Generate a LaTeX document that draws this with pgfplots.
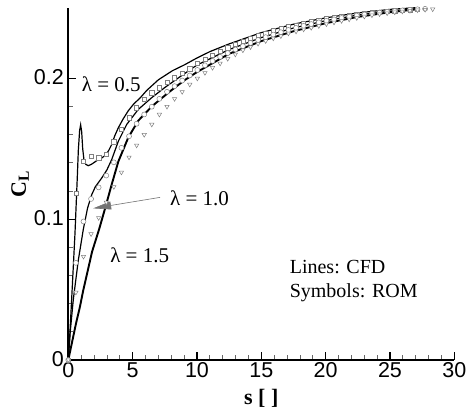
\documentclass[border=0pt]{standalone}
\usepackage{fontspec}
\setmainfont{Liberation Serif}
\newfontfamily\arial{Liberation Sans}
\usepackage{pgfplots}
\pgfplotsset{compat=1.18}
\usetikzlibrary{arrows.meta}

% CFD lift histories, one per lambda
\pgfplotstableread{
s     cl
0     0
0.1   0.015
0.26  0.043
0.52  0.090
0.70  0.130
0.78  0.149
0.88  0.163
0.96  0.167
1.04  0.162
1.12  0.150
1.22  0.142
1.35  0.139
1.55  0.138
1.80  0.139
2.20  0.1415
2.60  0.1435
2.90  0.1455
3.15  0.149
3.37  0.153
3.60  0.159
3.89  0.165
4.25  0.171
4.66  0.177
5.10  0.182
5.57  0.186
6.10  0.1915
7.00  0.199
8.10  0.2055
9.00  0.2095
10.0  0.2145
11.0  0.219
12.5  0.2245
15.0  0.2325
17.5  0.2385
20.0  0.2430
22.5  0.2465
25.0  0.2490
27.0  0.2502
}\cfdA
\pgfplotstableread{
s     cl
0     0
0.15  0.020
0.39  0.043
0.78  0.071
1.17  0.093
1.50  0.108
1.82  0.1174
2.10  0.123
2.60  0.1293
3.00  0.135
3.37  0.1423
3.89  0.1554
4.54  0.1673
5.44  0.178
6.48  0.1863
7.50  0.1935
8.50  0.2000
10.0  0.2095
12.5  0.2205
15.0  0.2290
17.5  0.2358
20.0  0.2410
22.5  0.2450
25.0  0.2478
27.0  0.2495
}\cfdB
\pgfplotstableread{
s     cl
0     0
0.30  0.013
0.60  0.026
0.91  0.038
1.15  0.049
1.50  0.063
1.85  0.077
2.40  0.093
2.90  0.109
3.37  0.1246
3.89  0.141
4.66  0.158
5.44  0.170
6.48  0.180
7.13  0.185
8.00  0.1915
9.00  0.1985
10.0  0.2045
12.5  0.2175
15.0  0.2265
17.5  0.2335
20.0  0.2392
22.5  0.2437
25.0  0.2470
27.0  0.2490
}\cfdC

% ROM samples
\pgfplotstableread{
s     cl
0     0
0.59  0.1186
1.18  0.141
1.77  0.1447
2.36  0.1436
2.95  0.1459
3.54  0.1550
4.13  0.1637
4.72  0.1720
5.31  0.1791
5.90  0.1850
6.49  0.1898
7.08  0.1934
7.67  0.1974
8.26  0.2005
8.85  0.2036
9.44  0.2069
10.03 0.2105
10.62 0.2135
11.21 0.2165
11.80 0.2192
12.39 0.2218
12.98 0.2242
13.57 0.2264
14.16 0.2285
14.75 0.2304
15.34 0.2322
15.93 0.2338
16.52 0.2353
17.11 0.2367
17.70 0.2380
18.29 0.2392
18.88 0.2403
19.47 0.2413
20.06 0.2423
20.65 0.2432
21.24 0.2440
21.83 0.2448
22.42 0.2455
23.01 0.2461
23.60 0.2467
24.19 0.2472
24.78 0.2477
25.37 0.2481
25.96 0.2485
26.55 0.2488
27.14 0.2491
}\romA
\pgfplotstableread{
s     cl
0     0
0.59  0.069
1.18  0.0984
1.77  0.1144
2.36  0.1226
2.95  0.1310
3.54  0.1404
4.13  0.1507
4.72  0.1589
5.31  0.1678
5.90  0.1744
6.49  0.1799
7.08  0.1855
7.67  0.1905
8.26  0.1945
8.85  0.1985
9.44  0.2021
10.03 0.2060
10.62 0.2093
11.21 0.2124
11.80 0.2153
12.39 0.2180
12.98 0.2205
13.57 0.2229
14.16 0.2252
14.75 0.2273
15.34 0.2293
15.93 0.2311
16.52 0.2328
17.11 0.2344
17.70 0.2359
18.29 0.2373
18.88 0.2386
19.47 0.2398
20.06 0.2409
20.65 0.2419
21.24 0.2429
21.83 0.2438
22.42 0.2446
23.01 0.2454
23.60 0.2461
24.19 0.2467
24.78 0.2473
25.37 0.2478
25.96 0.2483
26.55 0.2487
27.14 0.2491
27.73 0.2494
}\romB
\pgfplotstableread{
s     cl
0     0
0.59  0.048
1.18  0.0735
1.77  0.0895
2.36  0.1010
2.95  0.1120
3.54  0.1230
4.13  0.1333
4.72  0.1440
5.31  0.1525
5.90  0.1600
6.49  0.1673
7.08  0.1744
7.67  0.1800
8.26  0.1855
8.85  0.1905
9.44  0.1957
10.03 0.2000
10.62 0.2040
11.21 0.2076
11.80 0.2107
12.39 0.2140
12.98 0.2171
13.57 0.2200
14.16 0.2223
14.75 0.2247
15.34 0.2266
15.93 0.2285
16.52 0.2301
17.11 0.2320
17.70 0.2334
18.29 0.2349
18.88 0.2360
19.47 0.2373
20.06 0.2386
20.65 0.2398
21.24 0.2409
21.83 0.2420
22.42 0.2430
23.01 0.2440
23.60 0.2449
24.19 0.2457
24.78 0.2464
25.37 0.2470
25.96 0.2476
26.55 0.2481
27.14 0.2485
27.73 0.2489
28.32 0.2492
}\romC

\begin{document}
\begin{tikzpicture}
\begin{axis}[
    scale only axis, width=386pt, height=352pt,
    xmin=0, xmax=30, ymin=0, ymax=0.25,
    axis lines=left,
    axis line style={-, line width=1.6pt},
    every outer x axis line/.append style={-},
    every outer y axis line/.append style={-},
    xtick={0,5,...,30}, ytick={0,0.1,0.2},
    minor x tick num=4, minor y tick num=4,
    tick align=inside,
    major tick length=8pt, minor tick length=5pt,
    every major tick/.append style={line width=1.4pt, black},
    every minor tick/.append style={line width=0.8pt, black!60},
    tick label style={font=\arial\fontsize{21.5}{26}\selectfont},
    xticklabel style={yshift=1pt},
    yticklabel style={xshift=-1pt, yshift=1pt},
    /pgf/number format/assume math mode=true,
    yticklabel style={/pgf/number format/fixed, /pgf/number format/precision=1},
    xlabel={\textbf{s [ ]}},
    ylabel={\textbf{C\textsubscript{L}}},
    label style={font=\fontsize{22}{26}\selectfont},
    xlabel style={at={(axis description cs:0.5,-0.108)}, anchor=center},
    ylabel style={at={(axis description cs:-0.125,0.5)}, anchor=center, rotate=0},
    clip=false,
]
\addplot[black, line width=1.2pt] table[x=s, y=cl] {\cfdA};
\addplot[black, line width=1.2pt] table[x=s, y=cl] {\cfdB};
\addplot[black, line width=1.9pt] table[x=s, y=cl] {\cfdC};

\addplot[only marks, mark=square*, mark size=2.1pt,
  mark options={draw=black!50, fill=white, line width=0.5pt}] table[x=s, y=cl] {\romA};
\addplot[only marks, mark=*, mark size=2.5pt,
  mark options={draw=black!50, fill=white, line width=0.5pt}] table[x=s, y=cl] {\romB};
\addplot[only marks, mark=triangle*, mark size=2.5pt,
  mark options={draw=black!50, fill=white, line width=0.5pt, rotate=180}] table[x=s, y=cl] {\romC};

\draw[black!55, line width=0.6pt, -{Triangle[length=18pt, width=8pt]}]
  (axis cs:7.13,0.1155) -- (axis cs:1.93,0.1077);

\node[anchor=west, font=\fontsize{21}{24}\selectfont, inner sep=0pt]
  at (axis cs:1.04,0.1957) {λ = 0.5};
\node[anchor=west, font=\fontsize{21}{24}\selectfont, inner sep=0pt]
  at (axis cs:7.9,0.115) {λ = 1.0};
\node[anchor=west, font=\fontsize{21}{24}\selectfont, inner sep=0pt]
  at (axis cs:3.25,0.0747) {λ = 1.5};
\node[anchor=west, align=left, font=\fontsize{20}{24}\selectfont, inner sep=0pt]
  at (axis cs:17.2,0.0562) {Lines: CFD\\Symbols: ROM};
\end{axis}
\pgfresetboundingbox
\path[use as bounding box] (-68.3pt,-53pt) rectangle (401.7pt,360pt);
\end{tikzpicture}
\end{document}
